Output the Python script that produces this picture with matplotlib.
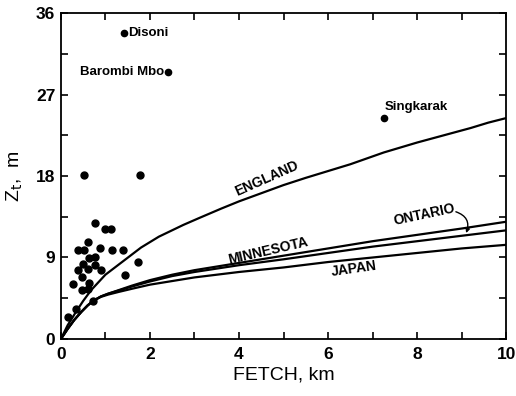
import numpy as np
import matplotlib.pyplot as plt
from matplotlib.ticker import MultipleLocator

plt.rcParams['font.family'] = ['Liberation Sans', 'DejaVu Sans']

# thermocline depth vs fetch, regional curves
fetch_eng = [0, 0.15, 0.34, 0.5, 0.68, 1.0, 1.4, 1.8, 2.2, 2.75, 3.1, 3.6, 4.0,
             4.5, 5.0, 5.5, 6.5, 7.25, 8.0, 8.6, 9.2, 9.6, 10.0]
depth_eng = [0, 1.5, 3.0, 4.2, 5.4, 7.1, 8.6, 10.1, 11.3, 12.6, 13.35, 14.4, 15.2,
             16.1, 17.0, 17.8, 19.3, 20.6, 21.7, 22.5, 23.3, 23.9, 24.4]

fetch_low = [0, 0.15, 0.3, 0.46, 0.6, 0.72, 0.9, 1.06, 1.3, 1.6, 2.0, 2.5, 3.0,
             4.0, 5.0, 6.0, 7.0, 8.0, 9.0, 10.0]
depth_ont = [0, 1.1, 2.1, 3.0, 3.7, 4.2, 4.7, 5.0, 5.4, 5.9, 6.5, 7.1, 7.6,
             8.4, 9.2, 10.0, 10.8, 11.5, 12.2, 12.95]
depth_min = [0, 1.1, 2.1, 3.0, 3.7, 4.2, 4.7, 5.0, 5.35, 5.8, 6.35, 6.95, 7.4,
             8.15, 8.8, 9.5, 10.2, 10.8, 11.4, 12.0]
depth_jap = [0, 1.1, 2.1, 3.0, 3.7, 4.2, 4.65, 4.9, 5.2, 5.55, 6.0, 6.4, 6.8,
             7.4, 7.9, 8.5, 9.0, 9.5, 10.0, 10.4]

# tropical lakes
lake_fetch = [0.52, 1.78, 0.76, 1.00, 1.13, 0.39, 0.53, 0.62, 0.88, 1.14, 1.39,
              0.63, 0.77, 0.50, 0.77, 0.39, 0.62, 0.89, 1.73, 0.47, 1.45, 0.28,
              0.63, 0.47, 0.61, 0.73, 0.33, 0.15]
lake_depth = [18.1, 18.1, 12.8, 12.1, 12.1, 9.8, 9.8, 10.7, 10.1, 9.8, 9.8,
              8.9, 9.1, 8.3, 8.2, 7.6, 7.7, 7.6, 8.5, 6.9, 7.1, 6.1,
              6.2, 5.4, 5.5, 4.2, 3.3, 2.4]

named = ['Disoni', 'Barombi Mbo', 'Singkarak']
named_fetch = [1.42, 2.41, 7.25]
named_depth = [33.8, 29.5, 24.4]

fig = plt.figure(figsize=(5.16, 3.96), dpi=100)
ax = fig.add_axes([0.118, 0.144, 0.863, 0.823])

for d in (depth_ont, depth_min, depth_jap):
    ax.plot(fetch_low, d, color='k', lw=1.6, solid_joinstyle='round')
ax.plot(fetch_eng, depth_eng, color='k', lw=1.6, solid_joinstyle='round')

ax.plot(lake_fetch, lake_depth, 'o', color='k', ms=5, clip_on=False)
ax.plot(named_fetch, named_depth, 'o', color='k', ms=4.5)

lab = dict(fontsize=9.5, fontweight='bold')
ax.text(named_fetch[0] + 0.1, named_depth[0], named[0], va='center', ha='left', **lab)
ax.text(named_fetch[1] - 0.1, named_depth[1], named[1], va='center', ha='right', **lab)
ax.text(named_fetch[2] + 0.03, named_depth[2] + 1.2, named[2], va='center', ha='left', **lab)

cl = dict(fontsize=10, fontweight='bold', ha='center', va='center', rotation_mode='anchor')
ax.text(4.62, 17.7, 'ENGLAND', rotation=24, **cl)
ax.text(4.66, 9.75, 'MINNESOTA', rotation=13, **cl)
ax.text(6.57, 7.8, 'JAPAN', rotation=8, **cl)
ax.text(8.16, 13.7, 'ONTARIO', rotation=12, **cl)
ax.annotate('', xy=(9.1, 11.7), xytext=(8.87, 14.05),
            arrowprops=dict(arrowstyle='-|>', connectionstyle='arc3,rad=-0.5',
                            color='k', lw=1, shrinkA=0, shrinkB=0,
                            mutation_scale=6))

ax.set_xlim(0, 10)
ax.set_ylim(0, 36)
ax.xaxis.set_major_locator(MultipleLocator(2))
ax.xaxis.set_minor_locator(MultipleLocator(1))
ax.yaxis.set_major_locator(MultipleLocator(9))
ax.yaxis.set_minor_locator(MultipleLocator(4.5))
ax.tick_params(which='both', direction='in', top=True, right=True,
               length=5, width=1.2, colors='k')
ax.tick_params(axis='x', pad=6, labelsize=12.5)
ax.tick_params(axis='y', pad=4, labelsize=12.5)
for t in ax.get_xticklabels() + ax.get_yticklabels():
    t.set_fontweight('bold')
for s in ax.spines.values():
    s.set_linewidth(1.3)

ax.set_xlabel('FETCH, km', fontsize=14, labelpad=3)
ax.set_ylabel(r'Z$_{\mathrm{t}}$,  m', fontsize=14, labelpad=8)

fig.savefig('out.png', dpi=100)
